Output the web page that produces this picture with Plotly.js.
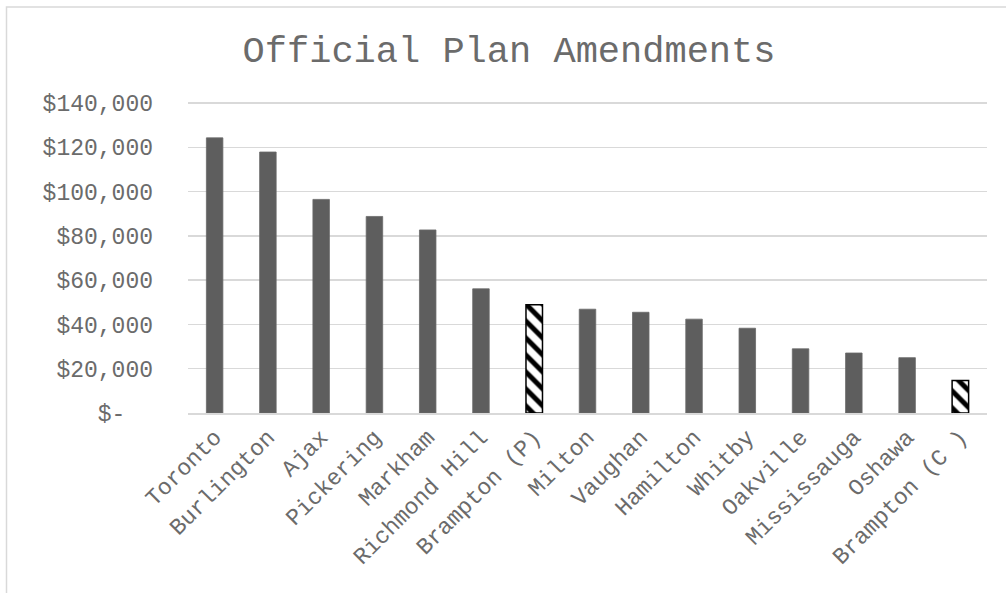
<!DOCTYPE html>
<html>
<head>
<meta charset="utf-8">
<script src="https://cdn.plot.ly/plotly-3.0.1.min.js"></script>
<style>html,body{margin:0;padding:0;background:#fff;}#chart{width:1006px;height:593px;}</style>
</head>
<body>
<div id="chart"></div>
<script>
const municipalities = ["Toronto","Burlington","Ajax","Pickering","Markham","Richmond Hill","Brampton (P)","Milton","Vaughan","Hamilton","Whitby","Oakville","Mississauga","Oshawa","Brampton (C )"];
const fees = [124300, 117900, 96500, 88800, 82700, 56100, 48900, 46900, 45500, 42400, 38300, 29000, 27100, 25000, 14700];
const highlighted = [false,false,false,false,false,false,true,false,false,false,false,false,false,false,true];
const yTickValues = [0, 20000, 40000, 60000, 80000, 100000, 120000, 140000];
const yTickLabels = ["$-\u00a0\u00a0", "$20,000", "$40,000", "$60,000", "$80,000", "$100,000", "$120,000", "$140,000"];

const FONT = "Liberation Mono, Courier New, monospace";
const TEXT = "#6b6b6b";

const plainTrace = {
  type: "bar",
  x: municipalities,
  y: fees.map((v, i) => highlighted[i] ? null : v),
  marker: {color: "#5e5e5e", line: {color: "#6a6a6a", width: 0.8}},
  hoverinfo: "x+y"
};
const patternTrace = {
  type: "bar",
  x: municipalities,
  y: fees.map((v, i) => highlighted[i] ? v : null),
  marker: {
    color: "#ffffff",
    line: {color: "#000000", width: 1.5},
    pattern: {shape: "\\", fgcolor: "#000000", bgcolor: "#ffffff", size: 12, solidity: 0.42}
  },
  hoverinfo: "x+y"
};
const layout = {
  width: 1006, height: 593,
  margin: {l: 188, r: 19, t: 102, b: 180},
  paper_bgcolor: "#ffffff", plot_bgcolor: "#ffffff",
  barmode: "overlay",
  bargap: 0.69,
  showlegend: false,
  title: {text: "Official Plan Amendments", font: {family: FONT, size: 37, color: TEXT}, x: 0.506, xanchor: "center", y: 0.918, yanchor: "middle"},
  xaxis: {
    tickangle: -45,
    tickfont: {family: FONT, size: 23, color: TEXT},
    showline: true, linecolor: "#d9d9d9", linewidth: 1.5,
    ticks: "", showgrid: false, automargin: false
  },
  yaxis: {
    range: [0, 140500],
    tickvals: yTickValues, ticktext: yTickLabels,
    tickfont: {family: FONT, size: 23, color: TEXT},
    showgrid: true, gridcolor: "#d9d9d9", gridwidth: 1.5,
    zeroline: false, showline: false, ticks: "", ticklabelstandoff: 34, automargin: false
  },
  shapes: [{
    type: "rect", xref: "paper", yref: "paper",
    x0: (6.5 - 188) / 799, x1: (1010 - 188) / 799,
    y0: (413 - 600) / 311, y1: (413 - 7) / 311,
    line: {color: "#d9d9d9", width: 1.5}, fillcolor: "rgba(0,0,0,0)", layer: "below"
  }]
};
Plotly.newPlot("chart", [plainTrace, patternTrace], layout, {staticPlot: true, displayModeBar: false});
</script>
</body>
</html>
